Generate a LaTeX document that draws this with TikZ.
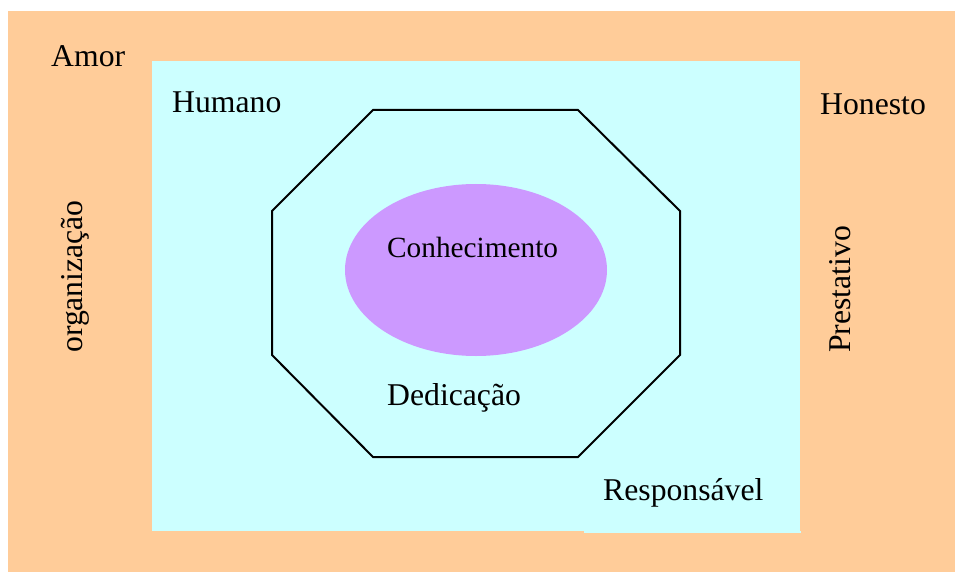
\documentclass[tikz,border=0pt]{standalone}
\usepackage{fontspec}
\setmainfont{Liberation Serif}
\definecolor{bgorange}{HTML}{FFCC99}
\definecolor{bgcyan}{HTML}{CCFFFF}
\definecolor{lilac}{HTML}{CC99FF}
\begin{document}
\begin{tikzpicture}[x=1pt,y=-1pt,
  lbl/.style={inner sep=0pt, anchor=base west, font=\fontsize{31.7}{36}\selectfont},
  vlbl/.style={lbl, rotate=90}]
\useasboundingbox (0,0) rectangle (955,572);
\fill[bgorange] (8,11) rectangle (955,572);
\fill[bgcyan] (152,61) rectangle (800,531);
\fill[bgcyan] (584,531) rectangle (801,533);
\draw[line width=2pt, line join=miter] (373,110) -- (578,110) -- (680,211) -- (680,355) -- (578,457) -- (373,457) -- (272,355) -- (272,211) -- cycle;
\fill[lilac] (476,270) ellipse [x radius=131, y radius=86];
\node[lbl] (amor) at (51,67) {Amor};
\node[lbl] (humano) at (172,113) {Humano};
\node[lbl] (honesto) at (820,115) {Honesto};
\node[lbl, font=\fontsize{29.3}{34}\selectfont] (conh) at (387,257) {Conhecimento};
\node[lbl] (dedic) at (387,405) {Dedicação};
\node[lbl] (resp) at (603,500) {Responsável};
\node[vlbl] (org) at (82,353) {organização};
\node[vlbl] (prest) at (850,353) {Prestativo};
\end{tikzpicture}
\end{document}
